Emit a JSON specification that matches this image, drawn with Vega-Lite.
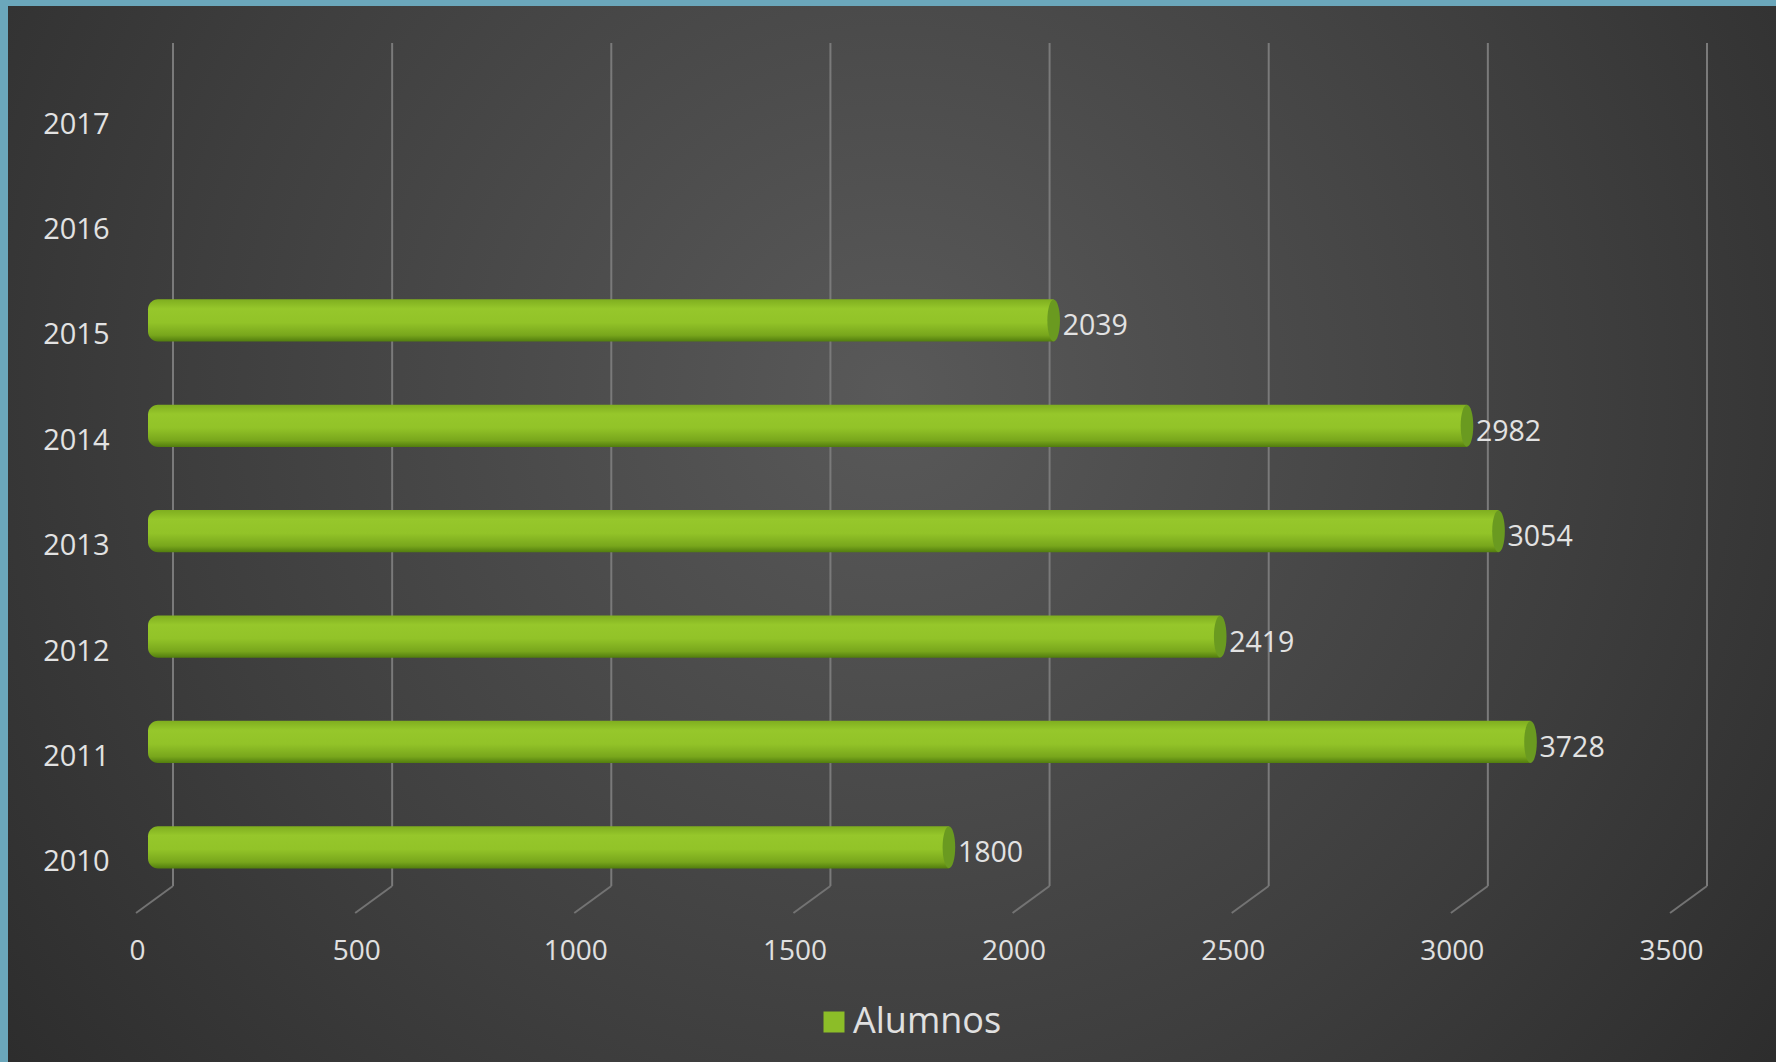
{
  "$schema": "https://vega.github.io/schema/vega-lite/v6.json",
  "width": 1768,
  "height": 1056,
  "autosize": "none",
  "padding": {"left": 8, "top": 6, "right": 0, "bottom": 0},
  "background": "#6ba7bb",
  "config": {
    "font": "Open Sans",
    "view": {
      "stroke": null,
      "fill": {
        "gradient": "radial",
        "x1": 0.5, "y1": 0.42, "r1": 0,
        "x2": 0.5, "y2": 0.42, "r2": 0.72,
        "stops": [
          {"offset": 0, "color": "#595959"},
          {"offset": 0.55, "color": "#3e3e3e"},
          {"offset": 1, "color": "#262626"}
        ]
      }
    }
  },
  "datasets": {
    "alumnos": [
      {"Año": "2010", "Alumnos": 1800, "Barra": 1800},
      {"Año": "2011", "Alumnos": 3728, "Barra": 3127},
      {"Año": "2012", "Alumnos": 2419, "Barra": 2419},
      {"Año": "2013", "Alumnos": 3054, "Barra": 3054},
      {"Año": "2014", "Alumnos": 2982, "Barra": 2982},
      {"Año": "2015", "Alumnos": 2039, "Barra": 2039}
    ],
    "escala": [
      {"v": 0}, {"v": 500}, {"v": 1000}, {"v": 1500},
      {"v": 2000}, {"v": 2500}, {"v": 3000}, {"v": 3500}
    ]
  },
  "layer": [
    {
      "data": {"name": "escala"},
      "mark": {"type": "rule", "color": "#7a7a7a", "strokeWidth": 2, "xOffset": 13, "yOffset": -52.7, "y2Offset": 52.7},
      "encoding": {
        "x": {
          "field": "v", "type": "quantitative",
          "scale": {"domain": [0, 3500], "range": [152, 1686], "nice": false, "zero": true},
          "axis": {
            "values": [0, 500, 1000, 1500, 2000, 2500, 3000, 3500],
            "format": "d", "labelFlush": false, "labelOverlap": false,
            "grid": false, "ticks": false, "domain": false,
            "orient": "bottom", "offset": -111, "labelPadding": 0,
            "labelOffset": -23, "labelFontSize": 28, "labelColor": "#e0e0e0",
            "labelBaseline": "middle", "labelFont": "Open Sans", "title": null
          }
        },
        "y": {
          "datum": "2017", "type": "ordinal",
          "scale": {
            "domain": ["2017", "2016", "2015", "2014", "2013", "2012", "2011", "2010"],
            "range": [37, 880], "paddingInner": 0.6, "paddingOuter": 0.3
          },
          "axis": {
            "orient": "left", "offset": -101, "labelPadding": 0, "labelOffset": 29,
            "labelAlign": "right", "labelBaseline": "middle", "labelFontSize": 29,
            "labelColor": "#e2e2e2", "labelFont": "Open Sans",
            "ticks": false, "domain": false, "grid": false, "title": null
          }
        },
        "y2": {"datum": "2010"}
      }
    },
    {
      "data": {"name": "escala"},
      "mark": {"type": "rule", "color": "#737373", "strokeWidth": 2, "xOffset": 13, "x2Offset": -24, "yOffset": 52.7, "y2Offset": 79.7},
      "encoding": {
        "x": {"field": "v", "type": "quantitative"},
        "x2": {"field": "v"},
        "y": {"datum": "2010", "type": "ordinal"},
        "y2": {"datum": "2010"}
      }
    },
    {
      "data": {"name": "alumnos"},
      "mark": {"type": "square", "opacity": 0, "size": 100, "yOffset": 14},
      "encoding": {
        "x": {"datum": 0, "type": "quantitative"},
        "y": {"field": "Año", "type": "ordinal"},
        "color": {
          "datum": "Alumnos", "type": "nominal",
          "scale": {"range": ["#8cbd28"]},
          "legend": {
            "orient": "none", "legendX": 808, "legendY": 998, "direction": "horizontal",
            "title": null, "symbolType": "square", "symbolSize": 441, "symbolStrokeWidth": 0,
            "symbolOpacity": 1,
            "labelFontSize": 36, "labelColor": "#e0e0e0", "labelFont": "Open Sans",
            "labelOffset": 1, "padding": 0
          }
        }
      }
    },
    {
      "data": {"name": "alumnos"},
      "mark": {
        "type": "bar", "yOffset": 14, "x2Offset": -12,
        "cornerRadiusTopLeft": 10, "cornerRadiusBottomLeft": 10,
        "fill": {
          "gradient": "linear", "x1": 0, "y1": 0, "x2": 0, "y2": 1,
          "stops": [
            {"offset": 0, "color": "#7fae1f"},
            {"offset": 0.22, "color": "#96c72b"},
            {"offset": 0.55, "color": "#92c328"},
            {"offset": 0.85, "color": "#78a61c"},
            {"offset": 1, "color": "#527d0e"}
          ]
        }
      },
      "encoding": {
        "x": {"field": "Barra", "type": "quantitative"},
        "x2": {"datum": 0},
        "y": {"field": "Año", "type": "ordinal"}
      }
    },
    {
      "data": {"name": "alumnos"},
      "mark": {"type": "point", "shape": "M0,-1A0.3,1,0,1,1,0,1A0.3,1,0,1,1,0,-1Z", "filled": true, "opacity": 1, "size": 1764, "yOffset": 14, "color": "#6a9a20"},
      "encoding": {
        "x": {"field": "Barra", "type": "quantitative"},
        "y": {"field": "Año", "type": "ordinal"}
      }
    },
    {
      "data": {"name": "alumnos"},
      "mark": {"type": "text", "align": "left", "baseline": "middle", "dx": 9, "yOffset": 20, "fontSize": 28.5, "color": "#e2e2e2", "font": "Open Sans"},
      "encoding": {
        "x": {"field": "Barra", "type": "quantitative"},
        "y": {"field": "Año", "type": "ordinal"},
        "text": {"field": "Alumnos", "type": "quantitative"}
      }
    }
  ]
}
